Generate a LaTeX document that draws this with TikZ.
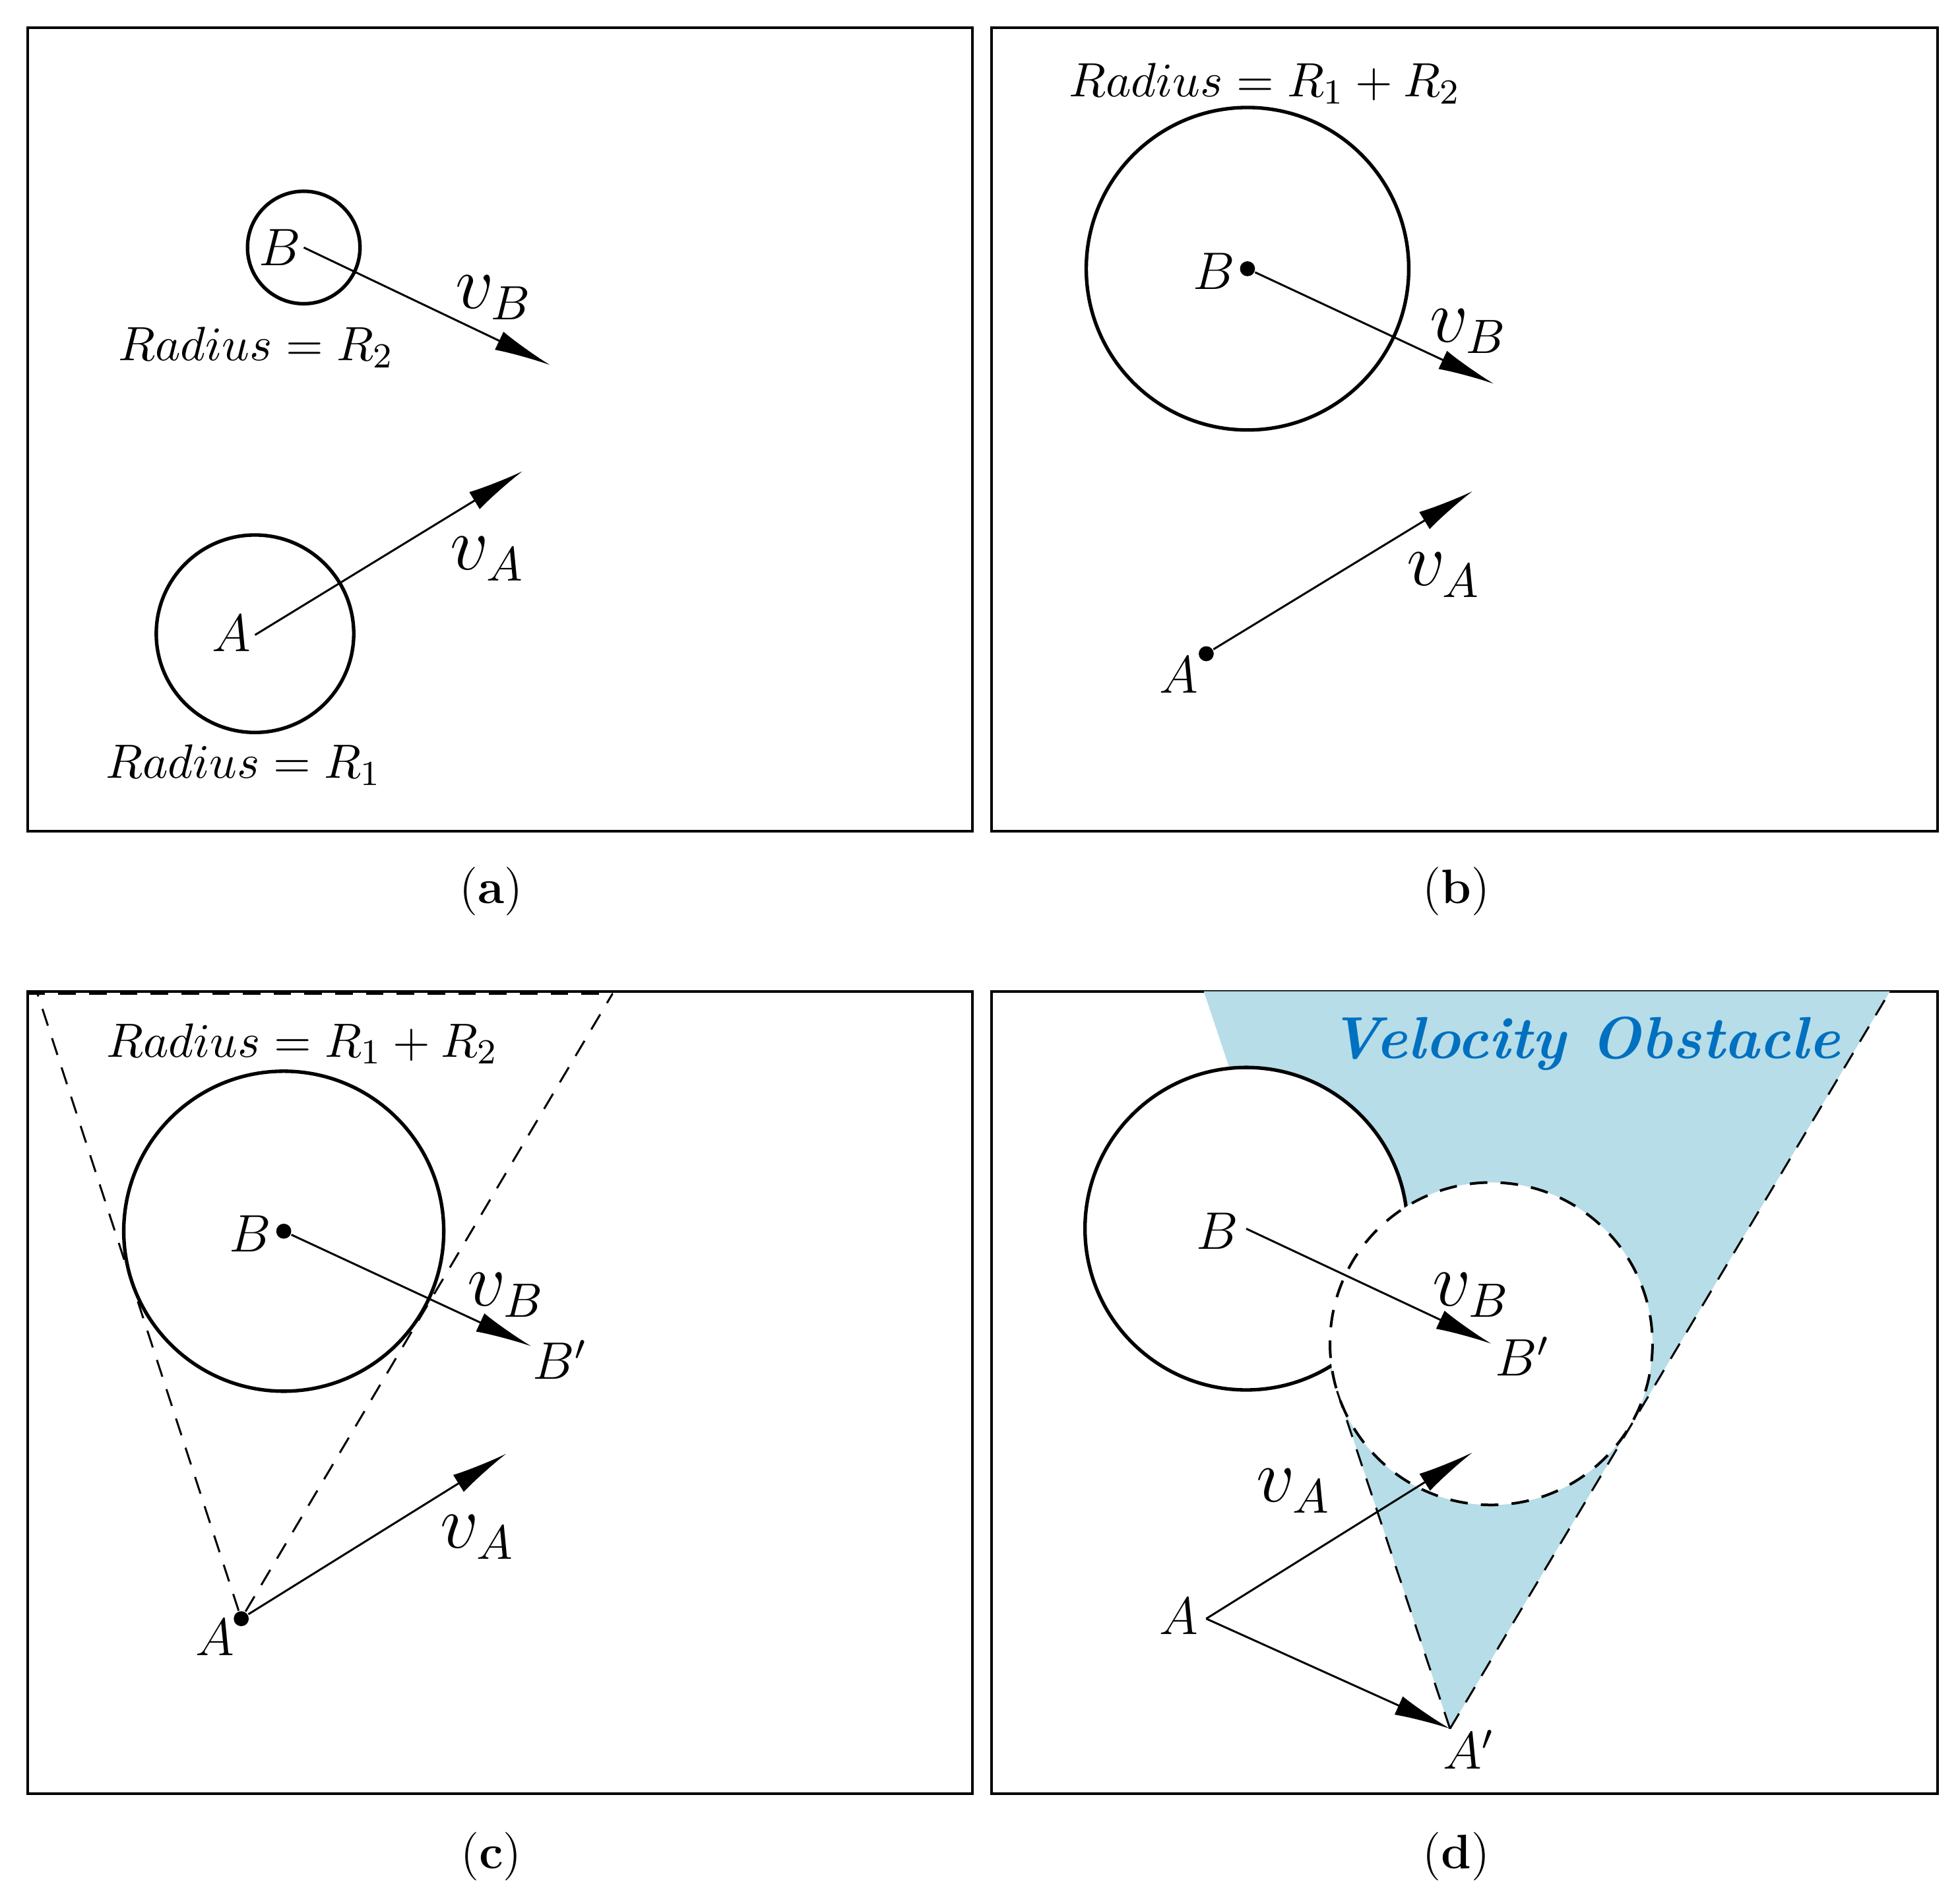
\documentclass[tikz,border=0pt]{standalone}
\usetikzlibrary{arrows.meta}
\definecolor{vofill}{RGB}{182,221,232}
\definecolor{votext}{RGB}{0,112,192}
\begin{document}
\begin{tikzpicture}[x=0.01cm,y=-0.01cm,
  frame/.style={line width=0.6pt},
  circ/.style={line width=0.8pt},
  vec/.style={line width=0.45pt,-{Latex[length=0.45cm,width=0.16cm]}},
  dsh/.style={line width=0.45pt,dash pattern=on 4pt off 3pt},
  dot/.style={circle,fill,inner sep=0pt,minimum size=1.6mm},
  lab/.style={font=\fontsize{11}{13}\selectfont},
  big/.style={font=\fontsize{16}{18}\selectfont},
  pt/.style={font=\fontsize{12}{14}\selectfont},
  captxt/.style={font=\fontsize{11}{13}\selectfont}]
\useasboundingbox (0,0) rectangle (1568,1512);
% frames
\draw[frame] (22,22) rectangle (778,665);
\draw[frame] (793,22) rectangle (1550,665);
\draw[frame] (22,793) rectangle (778,1435);
\draw[frame] (793,793) rectangle (1550,1435);
\node[captxt] (ca) at (393,713) {(\textbf{a})};
\node[captxt] (cb) at (1165,713) {(\textbf{b})};
\node[captxt] (cc) at (393,1485) {(\textbf{c})};
\node[captxt] (cd) at (1165,1485) {(\textbf{d})};
% ---- (a)
\draw[circ] (243,198) circle (45);
\draw[circ] (204,507) circle (79);
\coordinate (aB) at (243,198); \coordinate (aBe) at (440,292);
\coordinate (aA) at (204,508); \coordinate (aAe) at (418,377);
\draw[vec] (aB) -- (aBe);
\draw[vec] (aA) -- (aAe);
\node[pt] (laB) at (224,198) {$B$};
\node[pt] (laA) at (185,507) {$A$};
\node[big] (lavB) at (395,238) {$v_B$};
\node[big] (lavA) at (390,447) {$v_A$};
\node[lab] (laR2) at (205,278) {$Radius = R_2$};
\node[lab] (laR1) at (195,612) {$Radius = R_1$};
% ---- (b)
\draw[circ] (998,215) circle (129);
\node[dot,minimum size=1.2mm] (bB) at (998,215) {};
\coordinate (bBe) at (1195,307);
\node[dot,minimum size=1.2mm] (bA) at (965,523) {};
\coordinate (bAe) at (1178,393);
\draw[vec] (bB) -- (bBe);
\draw[vec] (bA) -- (bAe);
\node[pt] (lbB) at (971,217) {$B$};
\node[pt] (lbA) at (943,540) {$A$};
\node[big] (lbvB) at (1175,265) {$v_B$};
\node[big] (lbvA) at (1155,460) {$v_A$};
\node[lab] (lbR) at (1012,67) {$Radius = R_1 + R_2$};
% ---- (c)
\draw[circ] (227,985) circle (128);
\node[dot,minimum size=1.2mm] (cB) at (227,985) {};
\coordinate (cBp) at (425,1077);
\node[dot,minimum size=1.2mm] (cA) at (193,1295) {};
\coordinate (cAe) at (405,1163);
\coordinate (cL) at (30,795); \coordinate (cR) at (490,795); \coordinate (cT0) at (22,795);
\draw[dsh] (cA) -- (cL);
\draw[dsh] (cA) -- (cR);
\draw[dsh] (cT0) -- (cR);
\draw[vec] (cB) -- (cBp);
\draw[vec] (cA) -- (cAe);
\node[pt] (lcB) at (200,987) {$B$};
\node[pt] (lcBp) at (448,1088) {$B'$};
\node[pt] (lcA) at (172,1310) {$A$};
\node[big] (lcvB) at (405,1036) {$v_B$};
\node[big] (lcvA) at (382,1230) {$v_A$};
\node[lab] (lcR) at (242,835) {$Radius = R_1 + R_2$};
% ---- (d)
\coordinate (dAp) at (1160,1383);
\coordinate (dTL) at (963,793); \coordinate (dTR) at (1512,793);
\begin{scope}
\clip (793,793) rectangle (1550,1435);
\fill[vofill] (dAp) -- (dTL) -- (dTR) -- cycle;
\fill[white] (997,983) circle (129);
\fill[white] (1193,1075) circle (129);
\begin{scope}[even odd rule]
\clip (793,793) rectangle (1550,1435) (1193,1075) circle (129);
\draw[circ] (997,983) circle (129);
\end{scope}
\end{scope}
\draw[dsh,line width=0.6pt] (1193,1075) circle (129);
\draw[dsh] (dAp) -- (dTR);
\draw[dsh] (dAp) -- (1068,1108);
\coordinate (dB) at (997,983); \coordinate (dBp) at (1193,1075);
\coordinate (dA) at (965,1295); \coordinate (dAe) at (1178,1162);
\draw[vec] (dB) -- (dBp);
\draw[vec] (dA) -- (dAe);
\draw[vec] (dA) -- (dAp);
\node[pt] (ldB) at (974,985) {$B$};
\node[pt] (ldBp) at (1218,1085) {$B'$};
\node[pt] (ldA) at (943,1293) {$A$};
\node[pt] (ldAp) at (1175,1400) {$A'$};
\node[big] (ldvB) at (1177,1036) {$v_B$};
\node[big] (ldvA) at (1035,1193) {$v_A$};
\node[font=\fontsize{13.5}{16}\selectfont\bfseries\itshape,text=votext] (vo) at (1268,835) {Velocity Obstacle};
\end{tikzpicture}
\end{document}
